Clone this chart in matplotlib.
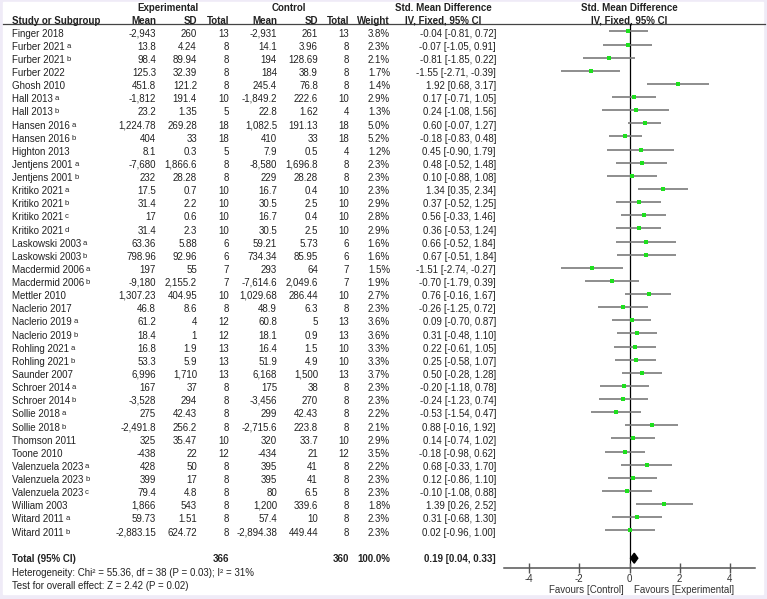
""" Forest plot of standardised mean differences (fixed effect, IV)."""
import math

import matplotlib.pyplot as plt
from matplotlib.patches import Rectangle

plt.rcParams['font.family'] = ['Liberation Sans', 'DejaVu Sans']
plt.rcParams['axes.unicode_minus'] = False

studies = ["Finger 2018", "Furber 2021", "Furber 2021", "Furber 2022", "Ghosh 2010",
           "Hall 2013", "Hall 2013", "Hansen 2016", "Hansen 2016", "Highton 2013",
           "Jentjens 2001", "Jentjens 2001", "Kritiko 2021", "Kritiko 2021",
           "Kritiko 2021", "Kritiko 2021", "Laskowski 2003", "Laskowski 2003",
           "Macdermid 2006", "Macdermid 2006", "Mettler 2010", "Naclerio 2017",
           "Naclerio 2019", "Naclerio 2019", "Rohling 2021", "Rohling 2021",
           "Saunder 2007", "Schroer 2014", "Schroer 2014", "Sollie 2018",
           "Sollie 2018", "Thomson 2011", "Toone 2010", "Valenzuela 2023",
           "Valenzuela 2023", "Valenzuela 2023", "William 2003", "Witard 2011",
           "Witard 2011"]
subs = ["", "a", "b", "", "", "a", "b", "a", "b", "", "a", "b", "a", "b", "c", "d",
        "a", "b", "a", "b", "", "", "a", "b", "a", "b", "", "a", "b", "a", "b", "",
        "", "a", "b", "c", "", "a", "b"]

exp_mean = ["-2,943", "13.8", "98.4", "125.3", "451.8", "-1,812", "23.2", "1,224.78",
            "404", "8.1", "-7,680", "232", "17.5", "31.4", "17", "31.4", "63.36",
            "798.96", "197", "-9,180", "1,307.23", "46.8", "61.2", "18.4", "16.8",
            "53.3", "6,996", "167", "-3,528", "275", "-2,491.8", "325", "-438", "428",
            "399", "79.4", "1,866", "59.73", "-2,883.15"]
exp_sd = ["260", "4.24", "89.94", "32.39", "121.2", "191.4", "1.35", "269.28", "33",
          "0.3", "1,866.6", "28.28", "0.7", "2.2", "0.6", "2.3", "5.88", "92.96", "55",
          "2,155.2", "404.95", "8.6", "4", "1", "1.9", "5.9", "1,710", "37", "294",
          "42.43", "256.2", "35.47", "22", "50", "17", "4.8", "543", "1.51", "624.72"]
exp_n = [13, 8, 8, 8, 8, 10, 5, 18, 18, 5, 8, 8, 10, 10, 10, 10, 6, 6, 7, 7, 10, 8,
         12, 12, 13, 13, 13, 8, 8, 8, 8, 10, 12, 8, 8, 8, 8, 8, 8]
ctl_mean = ["-2,931", "14.1", "194", "184", "245.4", "-1,849.2", "22.8", "1,082.5",
            "410", "7.9", "-8,580", "229", "16.7", "30.5", "16.7", "30.5", "59.21",
            "734.34", "293", "-7,614.6", "1,029.68", "48.9", "60.8", "18.1", "16.4",
            "51.9", "6,168", "175", "-3,456", "299", "-2,715.6", "320", "-434", "395",
            "395", "80", "1,200", "57.4", "-2,894.38"]
ctl_sd = ["261", "3.96", "128.69", "38.9", "76.8", "222.6", "1.62", "191.13", "33",
          "0.5", "1,696.8", "28.28", "0.4", "2.5", "0.4", "2.5", "5.73", "85.95", "64",
          "2,049.6", "286.44", "6.3", "5", "0.9", "1.5", "4.9", "1,500", "38", "270",
          "42.43", "223.8", "33.7", "21", "41", "41", "6.5", "339.6", "10", "449.44"]
ctl_n = [13, 8, 8, 8, 8, 10, 4, 18, 18, 4, 8, 8, 10, 10, 10, 10, 6, 6, 7, 7, 10, 8,
         13, 13, 10, 10, 13, 8, 8, 8, 8, 10, 12, 8, 8, 8, 8, 8, 8]
weight = [3.8, 2.3, 2.1, 1.7, 1.4, 2.9, 1.3, 5.0, 5.2, 1.2, 2.3, 2.3, 2.3, 2.9, 2.8,
          2.9, 1.6, 1.6, 1.5, 1.9, 2.7, 2.3, 3.6, 3.6, 3.3, 3.3, 3.7, 2.3, 2.3, 2.2,
          2.1, 2.9, 3.5, 2.2, 2.3, 2.3, 1.8, 2.3, 2.3]
smd = [-0.04, -0.07, -0.81, -1.55, 1.92, 0.17, 0.24, 0.60, -0.18, 0.45, 0.48, 0.10,
       1.34, 0.37, 0.56, 0.36, 0.66, 0.67, -1.51, -0.70, 0.76, -0.26, 0.09, 0.31,
       0.22, 0.25, 0.50, -0.20, -0.24, -0.53, 0.88, 0.14, -0.18, 0.68, 0.12, -0.10,
       1.39, 0.31, 0.02]
ci_lo = [-0.81, -1.05, -1.85, -2.71, 0.68, -0.71, -1.08, -0.07, -0.83, -0.90, -0.52,
         -0.88, 0.35, -0.52, -0.33, -0.53, -0.52, -0.51, -2.74, -1.79, -0.16, -1.25,
         -0.70, -0.48, -0.61, -0.58, -0.28, -1.18, -1.23, -1.54, -0.16, -0.74, -0.98,
         -0.33, -0.86, -1.08, 0.26, -0.68, -0.96]
ci_hi = [0.72, 0.91, 0.22, -0.39, 3.17, 1.05, 1.56, 1.27, 0.48, 1.79, 1.48, 1.08,
         2.34, 1.25, 1.46, 1.24, 1.84, 1.84, -0.27, 0.39, 1.67, 0.72, 0.87, 1.10,
         1.05, 1.07, 1.28, 0.78, 0.74, 0.47, 1.92, 1.02, 0.62, 1.70, 1.10, 0.88,
         2.52, 1.30, 1.00]

total_exp, total_ctl = 366, 360
total_smd, total_lo, total_hi = 0.19, 0.04, 0.33
heterogeneity = "Heterogeneity: Chi\u00b2 = 55.36, df = 38 (P = 0.03); I\u00b2 = 31%"
overall = "Test for overall effect: Z = 2.42 (P = 0.02)"

W, H = 767, 599
ROW0, ROWH = 33.0, 13.13        # pixel centre of first row, row pitch
AX_TOP, AX_BOT = 24.0, 567.7    # header rule and x axis, in pixels
X_LEFT, X_RIGHT = 504.0, 755.0  # forest axis ends (-5 .. 5)
TOTAL_ROW = 40
TXT = '#222222'
FS = 7

fig = plt.figure(figsize=(W / 100, H / 100), dpi=100, facecolor='#efebf7')

# table layer: x in pixels, y in rows
tab = fig.add_axes([0, 0, 1, 1])
tab.set_xlim(0, W)
tab.set_ylim((H - ROW0) / ROWH, -ROW0 / ROWH)
tab.axis('off')
tab.add_patch(Rectangle((3, -ROW0 / ROWH + 2 / ROWH), 760, 592 / ROWH,
                        color='white', zorder=0))


def put(x, row, s, ha='right', bold=False):
    # snap the baseline to a fixed sub-pixel offset so that numbers with
    # commas sit on the same line as the rest of the row
    px = math.floor(ROW0 + row * ROWH + 3.1) + 0.55
    return tab.text(x, (px - ROW0) / ROWH, s, ha=ha, va='baseline', fontsize=FS,
                    fontweight='bold' if bold else 'normal', color=TXT)


put(168, -1.95, "Experimental", ha='center', bold=True)
put(289, -1.95, "Control", ha='center', bold=True)
put(443, -1.95, "Std. Mean Difference", ha='center', bold=True)
put(629, -1.95, "Std. Mean Difference", ha='center', bold=True)
put(12, -0.95, "Study or Subgroup", ha='left', bold=True)
for x, s in [(156, "Mean"), (197, "SD"), (229, "Total"), (277, "Mean"),
             (318, "SD"), (349, "Total"), (390, "Weight")]:
    put(x, -0.95, s, bold=True)
put(443, -0.95, "IV, Fixed, 95% CI", ha='center', bold=True)
put(629, -0.95, "IV, Fixed, 95% CI", ha='center', bold=True)
tab.plot([3, 765], [(AX_TOP - ROW0) / ROWH] * 2, color='#444444', lw=0.9)

for i in range(len(studies)):
    t = put(12, i, studies[i], ha='left')
    if subs[i]:
        tab.annotate(subs[i], xy=(1, 0), xycoords=t, xytext=(1.2, 2.2),
                     textcoords='offset points', fontsize=5.5, color=TXT,
                     va='baseline', ha='left')
    put(156, i, exp_mean[i])
    put(197, i, exp_sd[i])
    put(229, i, str(exp_n[i]))
    put(277, i, ctl_mean[i])
    put(318, i, ctl_sd[i])
    put(349, i, str(ctl_n[i]))
    put(390, i, f"{weight[i]:.1f}%")
    put(496, i, f"{smd[i]:.2f} [{ci_lo[i]:.2f}, {ci_hi[i]:.2f}]")

put(12, TOTAL_ROW, "Total (95% CI)", ha='left', bold=True)
put(229, TOTAL_ROW, str(total_exp), bold=True)
put(349, TOTAL_ROW, str(total_ctl), bold=True)
put(390, TOTAL_ROW, f"{sum(weight):.1f}%", bold=True)
put(496, TOTAL_ROW, f"{total_smd:.2f} [{total_lo:.2f}, {total_hi:.2f}]", bold=True)
put(12, 41.05, heterogeneity, ha='left')
put(12, 42.04, overall, ha='left')

# forest panel
ax = fig.add_axes([X_LEFT / W, 1 - AX_BOT / H, (X_RIGHT - X_LEFT) / W,
                   (AX_BOT - AX_TOP) / H])
ax.patch.set_alpha(0)
ax.set_xlim(-5, 5)
ax.set_ylim((AX_BOT - ROW0) / ROWH, (AX_TOP - ROW0) / ROWH)
ys = [i - 0.12 for i in range(len(studies))]
ax.hlines(ys, ci_lo, ci_hi, color='#7a7a7a', lw=1.2, zorder=2)
ax.plot(smd, ys, 's', color='#1ee01e', ms=2.3, mew=0, zorder=3)
ax.fill([total_lo, total_smd, total_hi, total_smd],
        [TOTAL_ROW, TOTAL_ROW - 0.38, TOTAL_ROW, TOTAL_ROW + 0.38],
        color='black', zorder=3)
ax.axvline(0, color='black', lw=0.9, zorder=1)

for s in ['top', 'left', 'right']:
    ax.spines[s].set_visible(False)
ax.spines['bottom'].set_color('#555555')
ax.spines['bottom'].set_linewidth(1.1)
ax.set_yticks([])
ax.set_xticks([-4, -2, 0, 2, 4])
ax.tick_params(axis='x', direction='inout', length=7, width=1, colors='#555555',
               labelcolor='#333333', labelsize=FS, pad=1)
ax.annotate("Favours [Control]", xy=(-0.21, 0), xycoords=('data', 'axes fraction'),
            xytext=(0, -16), textcoords='offset points', ha='right', va='center',
            fontsize=FS, color='#333333')
ax.annotate("Favours [Experimental]", xy=(0.19, 0),
            xycoords=('data', 'axes fraction'), xytext=(0, -16),
            textcoords='offset points', ha='left', va='center', fontsize=FS,
            color='#333333')

fig.savefig("out.png", dpi=100, facecolor=fig.get_facecolor())
